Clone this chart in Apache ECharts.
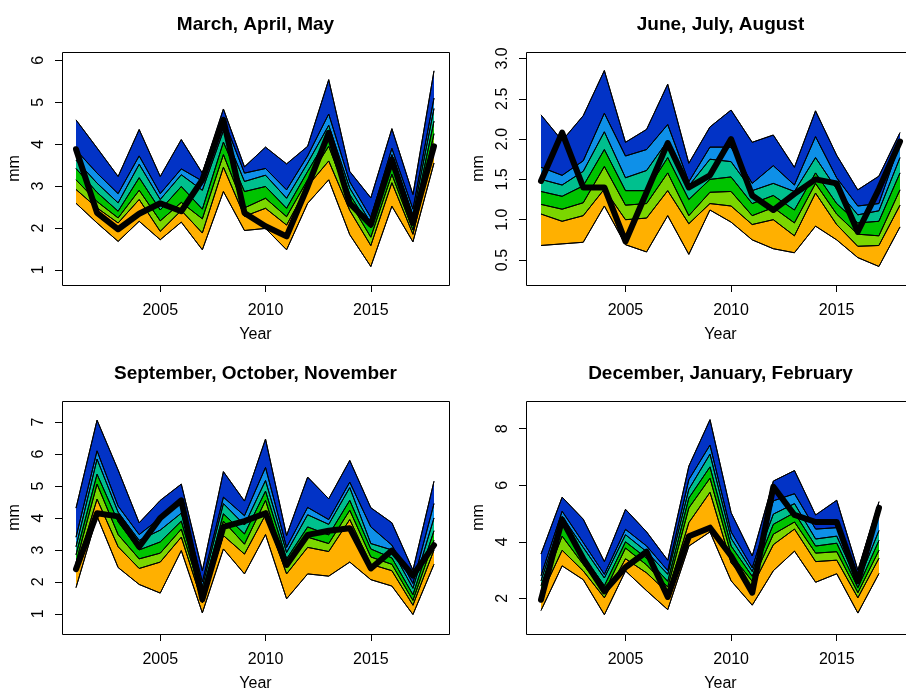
<!DOCTYPE html>
<html><head><meta charset="utf-8">
<script src="https://cdn.jsdelivr.net/npm/echarts@6/dist/echarts.min.js"></script>
<style>html,body{margin:0;padding:0;background:#fff}#c{width:906px;height:688px}</style>
</head><body><div id="c"></div>
<script>
// ---- data ----
const years = [2001,2002,2003,2004,2005,2006,2007,2008,2009,2010,2011,2012,2013,2014,2015,2016,2017,2018];
const yearsDJF = [2001,2002,2003,2004,2005,2006,2007,2008,2009,2010,2011,2012,2013,2014,2015,2016,2017];
const xTicks = [2005, 2010, 2015];

const titles = ['March, April, May','June, July, August','September, October, November','December, January, February'];

const mam_max = [4.58,3.91,3.23,4.35,3.23,4.11,3.31,4.84,3.46,3.93,3.53,3.95,5.54,3.35,2.72,4.37,2.80,5.75];
const mam_q5  = [3.86,3.31,2.82,3.72,2.82,3.41,3.12,4.60,3.31,3.42,2.91,3.72,4.72,3.10,2.25,3.90,2.45,5.10];
const mam_q4  = [3.62,3.07,2.60,3.52,2.68,3.27,2.90,4.32,3.11,3.26,2.71,3.55,4.45,2.95,2.12,3.75,2.30,4.85];
const mam_q3  = [3.42,2.85,2.40,3.20,2.43,2.99,2.45,4.05,2.87,2.99,2.47,3.35,4.20,2.80,2.00,3.55,2.15,4.55];
const mam_q2  = [3.15,2.63,2.24,2.90,2.17,2.61,2.22,3.75,2.48,2.71,2.27,3.15,3.95,2.62,1.78,3.28,1.95,4.25];
const mam_q1  = [2.92,2.48,2.12,2.68,1.92,2.42,1.88,3.45,2.28,2.47,2.07,3.00,3.60,2.42,1.58,3.08,1.85,3.95];
const mam_min = [2.59,2.12,1.68,2.16,1.72,2.14,1.48,2.87,1.94,1.99,1.48,2.59,3.15,1.84,1.08,2.52,1.67,3.55];
const mam_obs = [3.88,2.36,1.97,2.34,2.59,2.40,3.15,4.58,2.36,2.04,1.80,2.99,4.27,2.59,2.08,3.63,2.12,3.95];

const jja_max = [2.30,1.98,2.29,2.85,1.96,2.12,2.68,1.70,2.15,2.36,1.96,2.05,1.65,2.35,1.80,1.37,1.54,2.08];
const jja_q5  = [1.65,1.55,1.73,2.32,1.79,1.87,2.18,1.47,1.90,1.90,1.45,1.67,1.43,2.03,1.52,1.17,1.20,1.95];
const jja_q4  = [1.50,1.43,1.60,2.09,1.52,1.61,1.98,1.42,1.75,1.72,1.36,1.45,1.35,1.77,1.38,1.06,1.11,1.77];
const jja_q3  = [1.35,1.29,1.42,1.87,1.36,1.36,1.77,1.25,1.50,1.53,1.20,1.30,1.12,1.58,1.20,0.96,0.98,1.58];
const jja_q2  = [1.19,1.13,1.21,1.66,1.18,1.20,1.58,1.05,1.34,1.35,1.05,1.15,0.96,1.45,1.07,0.82,0.80,1.37];
const jja_q1  = [1.07,0.98,1.05,1.38,1.00,1.02,1.36,0.95,1.20,1.17,0.94,1.00,0.80,1.33,0.94,0.67,0.68,1.18];
const jja_min = [0.68,0.70,0.72,1.17,0.69,0.60,1.05,0.57,1.12,0.97,0.75,0.64,0.59,0.92,0.75,0.53,0.42,0.91];
const jja_obs = [1.48,2.08,1.40,1.40,0.73,1.34,1.95,1.40,1.55,2.00,1.30,1.12,1.32,1.50,1.45,0.85,1.38,1.97];

const son_max = [4.31,7.06,5.50,3.85,4.55,5.06,2.35,5.45,4.53,6.47,3.45,5.28,4.60,5.80,4.32,3.85,2.37,5.15];
const son_q5  = [3.40,6.10,4.37,3.48,4.00,4.60,2.00,4.65,4.07,5.58,3.08,4.33,3.95,5.12,3.72,3.15,1.95,4.45];
const son_q4  = [3.10,5.84,4.18,3.30,3.62,4.15,1.85,4.45,3.78,5.17,2.92,4.10,3.80,4.95,3.20,3.00,1.80,4.00];
const son_q3  = [2.85,5.37,3.88,3.00,3.25,3.90,1.68,4.13,3.50,4.84,2.72,3.72,3.47,4.55,3.03,2.75,1.60,3.60];
const son_q2  = [2.60,5.06,3.48,2.72,2.90,3.65,1.52,3.90,3.18,4.55,2.47,3.40,3.20,4.24,2.78,2.55,1.42,3.30];
const son_q1  = [2.40,4.59,3.10,2.42,2.62,3.40,1.35,3.45,2.87,4.10,2.25,3.08,2.95,3.95,2.55,2.35,1.27,3.00];
const son_min = [1.82,4.05,2.45,1.92,1.65,2.98,1.03,3.03,2.25,3.48,1.47,2.25,2.18,2.62,2.07,1.87,0.98,2.55];
const son_obs = [2.40,4.15,4.05,3.10,4.00,4.55,1.45,3.72,3.90,4.15,2.53,3.47,3.60,3.68,2.42,2.98,2.20,3.15];

const djf_max = [3.57,5.58,4.80,3.30,5.15,4.35,3.35,6.68,8.32,5.03,3.50,6.15,6.52,4.95,5.47,3.00,5.42];
const djf_q5  = [2.80,5.08,3.97,2.85,4.44,3.85,2.98,6.20,7.42,4.35,3.08,5.45,5.70,4.45,4.50,2.70,4.95];
const djf_q4  = [2.62,4.90,3.80,2.72,4.25,3.65,2.85,5.86,7.10,4.12,2.95,4.98,5.35,4.10,4.20,2.55,4.40];
const djf_q3  = [2.45,4.60,3.50,2.45,4.00,3.42,2.60,5.55,6.65,3.85,2.78,4.62,5.03,3.85,3.95,2.38,4.05];
const djf_q2  = [2.25,4.20,3.20,2.22,3.78,3.18,2.40,5.20,6.25,3.55,2.60,4.27,4.70,3.60,3.65,2.20,3.70];
const djf_q1  = [2.10,3.70,2.97,2.02,3.40,2.90,2.20,4.68,5.75,3.25,2.42,3.90,4.45,3.30,3.35,2.02,3.42];
const djf_min = [1.57,3.15,2.66,1.42,2.97,2.27,1.60,3.85,4.35,2.62,1.76,2.98,3.67,2.57,2.87,1.48,2.88];
const djf_obs = [1.95,4.78,3.40,2.25,3.10,3.65,2.05,4.20,4.50,3.50,2.20,5.95,4.95,4.70,4.70,2.60,5.20];

const mam_yTicks = [1,2,3,4,5,6];
const jja_yTicks = [0.5,1.0,1.5,2.0,2.5,3.0];
const son_yTicks = [1,2,3,4,5,6,7];
const djf_yTicks = [2,4,6,8];

// ---- layout / style ----
const FONT = '"Liberation Sans", Arial, Helvetica, sans-serif';
// fills painted from the top boundary down: max, q5, q4, q3, q2, q1, then white below min
const bandColors = ['#0233C6','#0E90E8','#00C08E','#00C300','#7BD600','#FFB000','#FFFFFF'];
const grids = [
  {left:62,  top:52,  width:387, height:233},
  {left:526, top:52,  width:389, height:233},
  {left:62,  top:401, width:387, height:233},
  {left:526, top:401, width:389, height:233}
];
// x range from: pixel offset of 2001 inside the grid, pixels per year, grid width
// (chosen so the first and last years fall on whole pixels)
function xRange(off, pxPerYear, width) {
  const mn = 2001 - off / pxPerYear;
  return [mn, mn + width / pxPerYear];
}
const panels = [
  {x:years,    bounds:[mam_max,mam_q5,mam_q4,mam_q3,mam_q2,mam_q1,mam_min], obs:mam_obs, ymin:0.64, ymax:6.2,  ticks:mam_yTicks, dec:0, xr:xRange(14, 358/17, 387)},
  {x:years,    bounds:[jja_max,jja_q5,jja_q4,jja_q3,jja_q2,jja_q1,jja_min], obs:jja_obs, ymin:0.19, ymax:3.08, ticks:jja_yTicks, dec:1, xr:xRange(15, 359/17, 389)},
  {x:years,    bounds:[son_max,son_q5,son_q4,son_q3,son_q2,son_q1,son_min], obs:son_obs, ymin:0.37, ymax:7.66, ticks:son_yTicks, dec:0, xr:xRange(14, 358/17, 387)},
  {x:yearsDJF, bounds:[djf_max,djf_q5,djf_q4,djf_q3,djf_q2,djf_q1,djf_min], obs:djf_obs, ymin:0.74, ymax:8.98, ticks:djf_yTicks, dec:0, xr:xRange(15, 338/16, 389)}
];

const xAxes = [], yAxes = [], series = [], titleOpts = [], graphics = [];
panels.forEach((p, i) => {
  const g = grids[i];
  xAxes.push({
    gridIndex:i, type:'value', min:p.xr[0], max:p.xr[1],
    axisLine:{show:false}, splitLine:{show:false},
    axisTick:{show:true, length:7, customValues:xTicks, lineStyle:{color:'#000', width:1}},
    axisLabel:{customValues:xTicks, fontSize:16, color:'#000', fontFamily:FONT, margin:18,
      formatter: v => String(Math.round(v))},
    name:'Year', nameLocation:'middle', nameGap:42,
    nameTextStyle:{fontSize:16, color:'#000', fontFamily:FONT}
  });
  yAxes.push({
    gridIndex:i, type:'value', min:p.ymin, max:p.ymax,
    axisLine:{show:false}, splitLine:{show:false},
    axisTick:{show:true, length:7, customValues:p.ticks, lineStyle:{color:'#000', width:1}},
    axisLabel:{customValues:p.ticks, rotate:90, fontSize:16, color:'#000', fontFamily:FONT, margin:15,
      formatter: v => Number(v).toFixed(p.dec)},
    name:'mm', nameLocation:'middle', nameRotate:90, nameGap:39,
    nameTextStyle:{fontSize:16, color:'#000', fontFamily:FONT}
  });
  // fills: each boundary filled down to the axis start, painted top boundary first
  p.bounds.forEach((arr, k) => {
    series.push({
      type:'line', xAxisIndex:i, yAxisIndex:i, symbol:'none', silent:true,
      data: p.x.map((yr, j) => [yr, arr[j]]),
      lineStyle:{color:'#000', width:1},
      areaStyle:{color:bandColors[k], opacity:1, origin:'start'},
      z:2
    });
  });
  // black outlines of each band boundary, above all fills
  p.bounds.forEach(arr => {
    series.push({
      type:'line', xAxisIndex:i, yAxisIndex:i, symbol:'none', silent:true,
      data: p.x.map((yr, j) => [yr, arr[j]]),
      lineStyle:{color:'#000', width:1},
      z:3
    });
  });
  series.push({
    type:'line', xAxisIndex:i, yAxisIndex:i, symbol:'none', silent:true,
    data: p.x.map((yr, j) => [yr, p.obs[j]]),
    lineStyle:{color:'#000', width:6, cap:'round', join:'round'},
    z:4
  });
  titleOpts.push({
    text:titles[i], left:g.left + g.width/2, top:g.top - 37, textAlign:'center', padding:0,
    textStyle:{fontSize:19, fontWeight:'bold', color:'#000', fontFamily:FONT}
  });
  graphics.push({
    type:'rect', z:100, silent:true,
    shape:{x:g.left + 0.5, y:g.top + 0.5, width:g.width, height:g.height},
    style:{fill:null, stroke:'#000', lineWidth:1}
  });
});

const chart = echarts.init(document.getElementById('c'), null, {renderer:'canvas'});
chart.setOption({
  animation:false,
  backgroundColor:'#fff',
  title:titleOpts,
  grid:grids.map(g => Object.assign({containLabel:false, outerBoundsMode:'none'}, g)),
  xAxis:xAxes, yAxis:yAxes, series:series,
  graphic:graphics
});
</script></body></html>
